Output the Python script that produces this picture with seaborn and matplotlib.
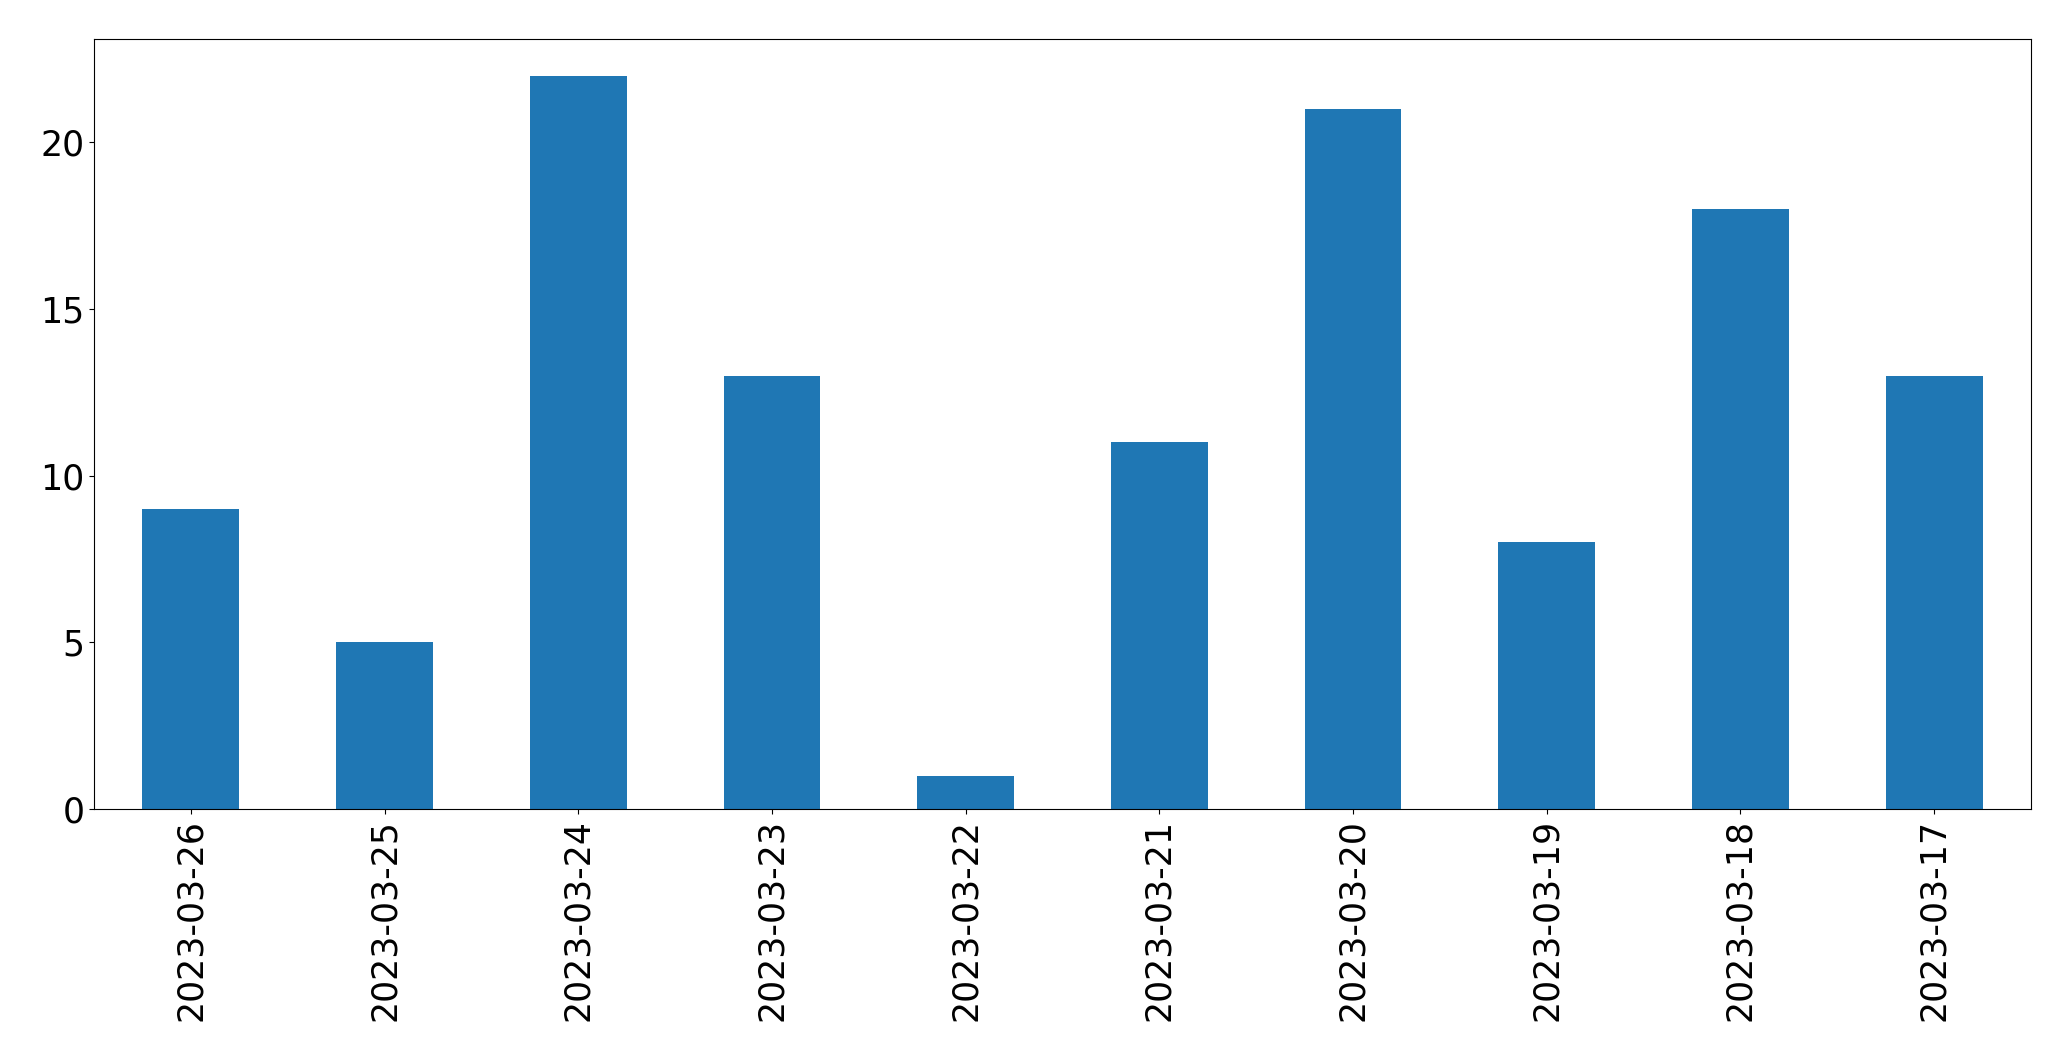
import matplotlib
matplotlib.use("Agg")
import matplotlib.pyplot as plt
import seaborn as sns
import pandas as pd

dates = ["2023-03-26", "2023-03-25", "2023-03-24", "2023-03-23", "2023-03-22",
         "2023-03-21", "2023-03-20", "2023-03-19", "2023-03-18", "2023-03-17"]
counts = [9, 5, 22, 13, 1, 11, 21, 8, 18, 13]

df = pd.DataFrame({"date": dates, "count": counts})

fig, ax = plt.subplots(figsize=(20.71, 10.61), dpi=100)
fig.subplots_adjust(left=94/2071, right=2031/2071, top=1-39/1061, bottom=1-809/1061)

sns.barplot(data=df, x="date", y="count", order=dates, color="#1f77b4",
            saturation=1, width=0.5, ax=ax, errorbar=None, linewidth=0)
ax.set_xlim(-0.5, len(dates) - 0.5)
ax.set_ylim(0, 23.1)
ax.set_xlabel("")
ax.set_ylabel("")
ax.tick_params(axis="x", labelrotation=90, labelsize=25)
ax.tick_params(axis="y", labelsize=25)
for s in ax.spines.values():
    s.set_visible(True)
    s.set_color("black")

fig.savefig("out.png", dpi=100)
